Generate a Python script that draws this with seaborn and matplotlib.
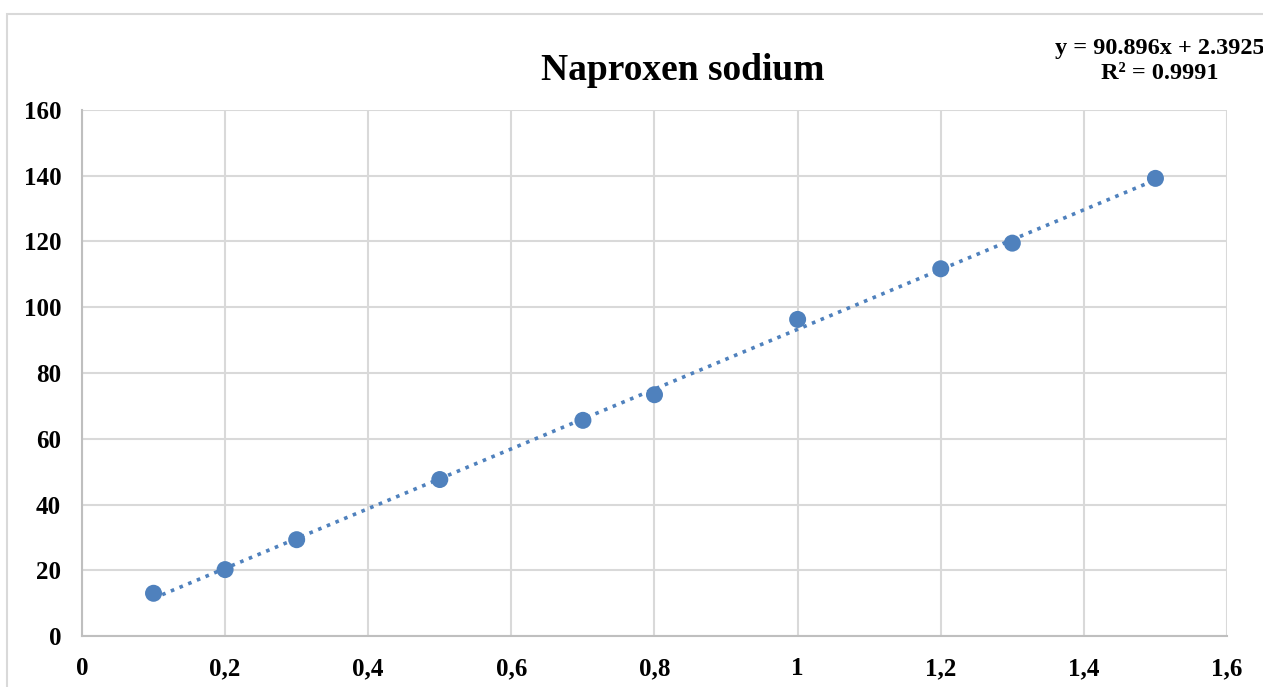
import matplotlib
matplotlib.use("Agg")
import matplotlib.pyplot as plt
import matplotlib.ticker as mticker
from matplotlib.patches import Rectangle
import numpy as np
import pandas as pd
import seaborn as sns

# Calibration data for naproxen sodium
concentration = [0.1, 0.2, 0.3, 0.5, 0.7, 0.8, 1.0, 1.2, 1.3, 1.5]
response = [13.0, 20.2, 29.3, 47.6, 65.6, 73.4, 96.3, 111.7, 119.5, 139.2]
slope = 90.896
intercept = 2.3925
r_squared = 0.9991
x_ticks = [0, 0.2, 0.4, 0.6, 0.8, 1.0, 1.2, 1.4, 1.6]
y_ticks = [0, 20, 40, 60, 80, 100, 120, 140, 160]

df = pd.DataFrame({"conc": concentration, "resp": response})

sns.set_theme(style="white")
plt.rcParams["font.family"] = ["Liberation Serif", "DejaVu Serif"]
plt.rcParams["font.weight"] = "bold"

blue = "#4f81bd"
grid = "#d9d9d9"

fig = plt.figure(figsize=(12.63, 6.87), dpi=100)
ax = fig.add_axes([0.0649, 0.0742, 0.9066, 0.7657])

# Chart border
fig.patches.append(Rectangle((7 / 1263, -0.01), 1.02, (687 - 14) / 687 + 0.01,
                             transform=fig.transFigure, fill=False,
                             edgecolor="#d9d9d9", linewidth=1.5))

# Linear trendline across the data range
xs = np.array([min(concentration), max(concentration)])
ax.plot(xs, slope * xs + intercept, color=blue, linestyle=(0, (1, 1.6)),
        linewidth=2.6, zorder=2)

sns.scatterplot(data=df, x="conc", y="resp", ax=ax, color=blue, s=150,
                edgecolor="none", linewidth=0, zorder=3)

ax.set_xlim(0, 1.6)
ax.set_ylim(0, 160)
ax.set_xticks(x_ticks)
ax.set_yticks(y_ticks)

def comma_fmt(v, _):
    if abs(v - round(v)) < 1e-9:
        return f"{int(round(v))}"
    return f"{v:g}".replace(".", ",")

ax.xaxis.set_major_formatter(mticker.FuncFormatter(comma_fmt))
ax.grid(True, color=grid, linewidth=1.5)
ax.set_axisbelow(True)
for side in ["top", "right"]:
    ax.spines[side].set_visible(False)
for side in ["left", "bottom"]:
    ax.spines[side].set_color("#bfbfbf")
    ax.spines[side].set_linewidth(1.5)

ax.tick_params(axis="both", length=0, labelsize=18, colors="black")
ax.tick_params(axis="x", pad=15)
ax.tick_params(axis="y", pad=15)
for lbl in ax.get_xticklabels() + ax.get_yticklabels():
    lbl.set_fontweight("bold")

ax.set_xlabel("")
ax.set_ylabel("")

fig.text(683 / 1263, 1 - 71 / 687, "Naproxen sodium", ha="center", va="center",
         fontsize=27, fontweight="bold", color="black")
fig.text(1160 / 1263, 1 - 61 / 687,
         f"y = {slope}x + {intercept}\nR² = {r_squared}",
         ha="center", va="center", fontsize=17.5, fontweight="bold",
         color="black", linespacing=1.2)

fig.savefig("out.png", dpi=100)
